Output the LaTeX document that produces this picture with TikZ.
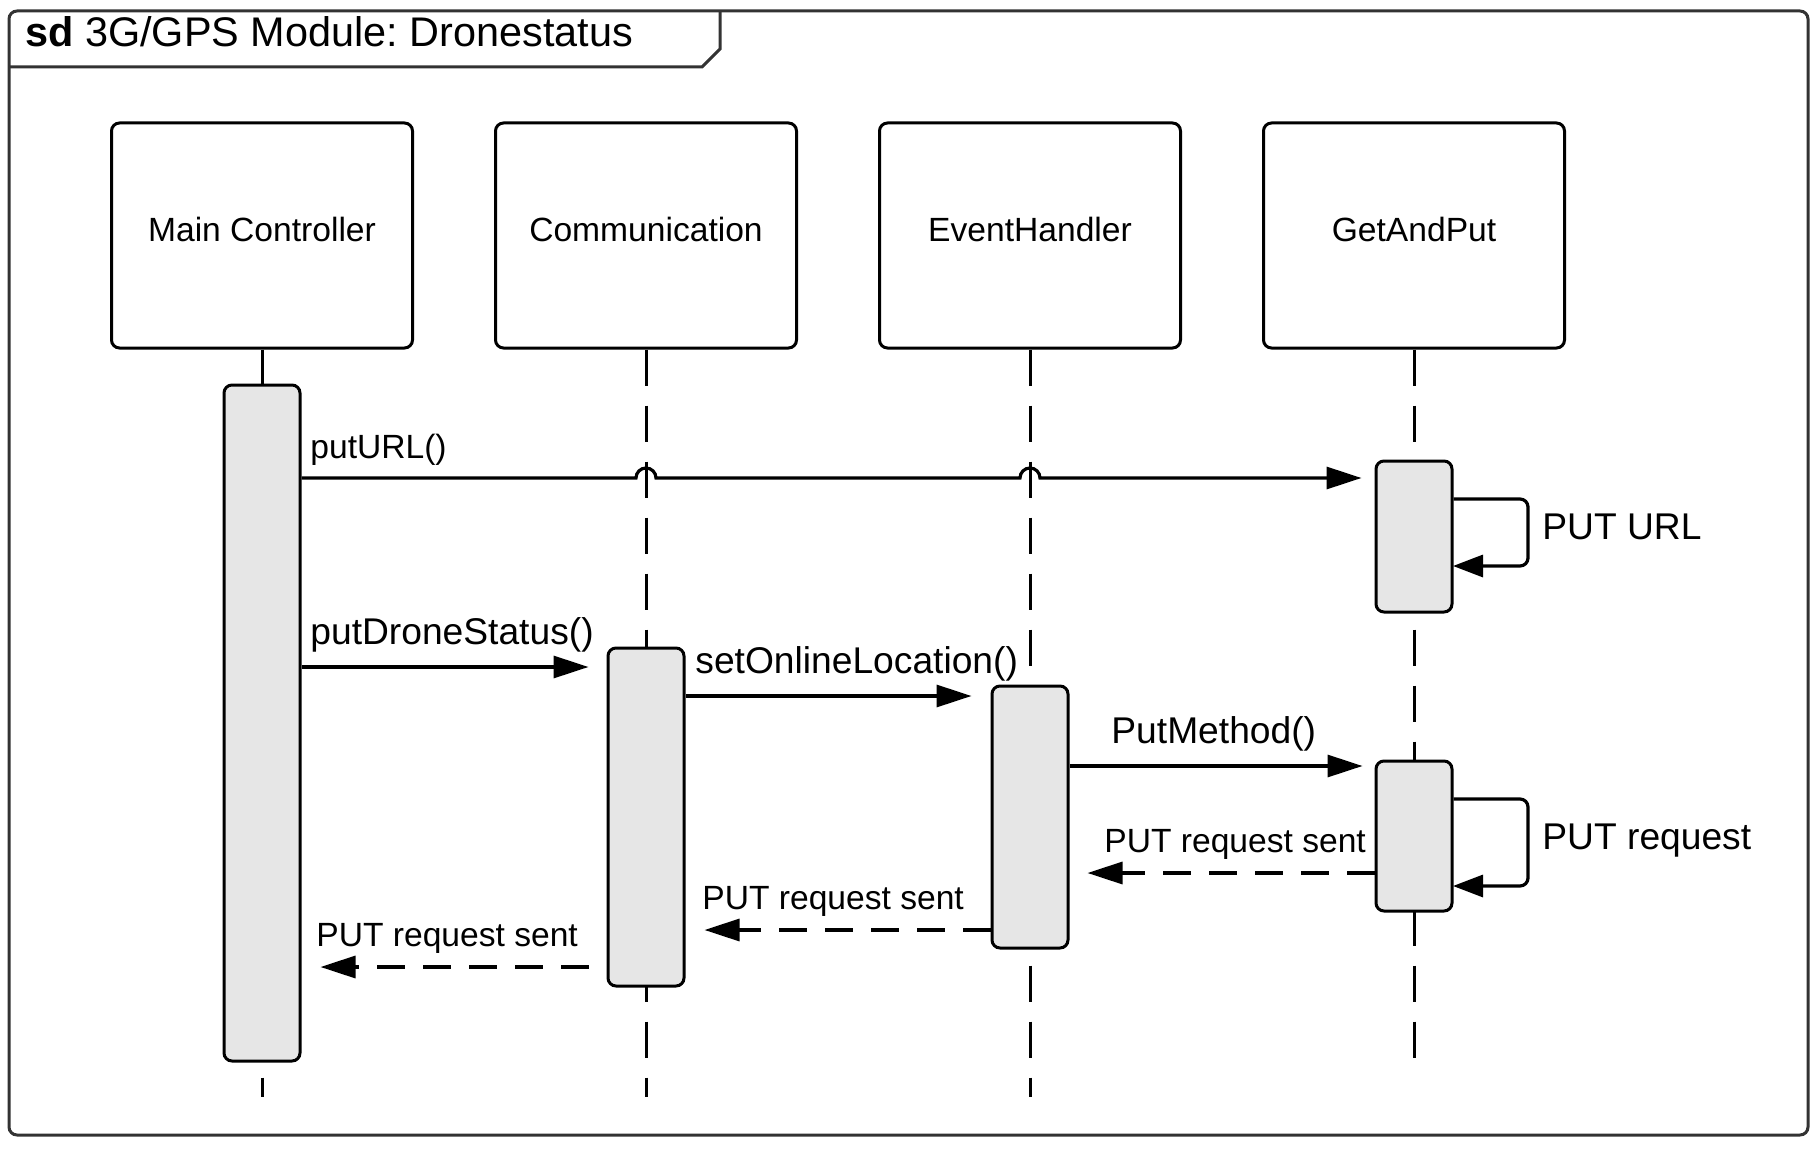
\documentclass[tikz,border=0pt]{standalone}
\usepackage{fontspec}
\setmainfont{Liberation Sans}
\usetikzlibrary{arrows.meta}
\frenchspacing

\definecolor{barfill}{HTML}{E6E6E6}
\definecolor{framegray}{HTML}{333333}

\tikzset{
  frame/.style={draw=framegray, line width=1.5pt, rounded corners=4pt},
  objbox/.style={draw, line width=1.5pt, rounded corners=4pt, minimum width=150.5pt,
    minimum height=112.5pt, inner sep=0pt, text depth=6pt, font=\fontsize{16.8}{20}\selectfont},
  actbar/.style={draw, fill=barfill, line width=1.5pt, rounded corners=4pt,
    minimum width=38pt, inner sep=0pt},
  lifeline/.style={line width=1.5pt, dash pattern=on 18pt off 10pt},
  call/.style={line width=1.6pt, -{Triangle[length=17.5pt,width=11pt]}},
  reply/.style={line width=1.6pt, dash pattern=on 14pt off 9pt,
    -{Triangle[length=17.5pt,width=11pt]}},
  selfcall/.style={line width=1.6pt, rounded corners=4pt, -{Triangle[length=15pt,width=11pt]}},
  biglabel/.style={font=\fontsize{18.6}{22}\selectfont, inner sep=0pt, anchor=base west},
  smalllabel/.style={font=\fontsize{16.8}{20}\selectfont, inner sep=0pt, anchor=base west}
}

\begin{document}
\begin{tikzpicture}[x=0.5pt,y=-0.5pt]
  \useasboundingbox (0,0) rectangle (1820,1150);

  % frame and title tab
  \draw[frame] (9,11) rectangle (1808,1135);
  \draw[frame, rounded corners=0pt] (9,67) -- (702,67) -- (720,49) -- (720,11);
  \node[anchor=base west, inner sep=0pt, font=\fontsize{20.7}{24}\selectfont] (title) at (25,47)
    {\textbf{sd} 3G/GPS Module: Dronestatus};

  % objects
  \node[objbox] (mc) at (262,235.5) {Main Controller};
  \node[objbox] (cm) at (646,235.5) {Communication};
  \node[objbox] (eh) at (1030,235.5) {EventHandler};
  \node[objbox] (gp) at (1414,235.5) {GetAndPut};

  % lifelines
  \coordinate (mcend) at (262,1097);
  \coordinate (cmend) at (646,1097);
  \coordinate (ehend) at (1030,1097);
  \coordinate (gpend) at (1414,1060);
  \draw[lifeline] (mc.south) -- (mcend);
  \draw[lifeline] (cm.south) -- (cmend);
  \draw[lifeline] (eh.south) -- (ehend);
  \draw[lifeline] (gp.south) -- (gpend);

  % activation bars
  \node[actbar, minimum height=338pt] (mcbar) at (262,723) {};
  \node[actbar, minimum height=169pt] (cmbar) at (646,817) {};
  \node[actbar, minimum height=131pt] (ehbar) at (1030,817) {};
  \node[actbar, minimum height=75.5pt] (gpbar1) at (1414,536.5) {};
  \node[actbar, minimum height=75pt] (gpbar2) at (1414,836) {};

  % message levels
  \coordinate (yurl) at (0,478);
  \coordinate (ystat) at (0,667);
  \coordinate (yloc) at (0,696);
  \coordinate (yput) at (0,766);
  \coordinate (yret1) at (0,873);
  \coordinate (yret2) at (0,930);
  \coordinate (yret3) at (0,967);
  \coordinate (loop1) at (1528,499);
  \coordinate (loop2) at (1528,799);

  % calls
  \draw[call, shorten >=6.5pt] (mcbar.east |- yurl)
    -- ([xshift=-5pt]cm.south |- yurl) arc[start angle=180, end angle=0, radius=5pt]
    -- ([xshift=-5pt]eh.south |- yurl) arc[start angle=180, end angle=0, radius=5pt]
    -- (gpbar1.west |- yurl);
  \draw[call, shorten >=9pt] (mcbar.east |- ystat) -- (cmbar.west |- ystat);
  \draw[call, shorten >=9.5pt] (cmbar.east |- yloc) -- (ehbar.west |- yloc);
  \draw[call, shorten >=6pt] (ehbar.east |- yput) -- (gpbar2.west |- yput);

  % self calls
  \draw[selfcall] (gpbar1.east |- loop1) -- (loop1) -- ++(0,67) -- ++(-75,0);
  \draw[selfcall] (gpbar2.east |- loop2) -- (loop2) -- ++(0,87) -- ++(-75,0);

  % replies
  \draw[reply, shorten >=9pt] (gpbar2.west |- yret1) -- (ehbar.east |- yret1);
  \draw[reply, shorten >=9.5pt] (ehbar.west |- yret2) -- (cmbar.east |- yret2);
  \draw[reply, shorten >=9.5pt, shorten <=9pt] (cmbar.west |- yret3) -- (mcbar.east |- yret3);

  % labels
  \node[smalllabel] (urllbl) at (310,458) {putURL()};
  \node[biglabel] (statlbl) at (310,644) {putDroneStatus()};
  \node[biglabel] (loclbl) at (695,673) {setOnlineLocation()};
  \node[biglabel] (putlbl) at (1111,743) {PutMethod()};
  \node[biglabel] (loop1lbl) at (1542,539) {PUT URL};
  \node[biglabel] (loop2lbl) at (1542,849) {PUT request};
  \node[smalllabel] (ret1lbl) at (1104,852) {PUT request sent};
  \node[smalllabel] (ret2lbl) at (702,909) {PUT request sent};
  \node[smalllabel] (ret3lbl) at (316,946) {PUT request sent};
\end{tikzpicture}
\end{document}
